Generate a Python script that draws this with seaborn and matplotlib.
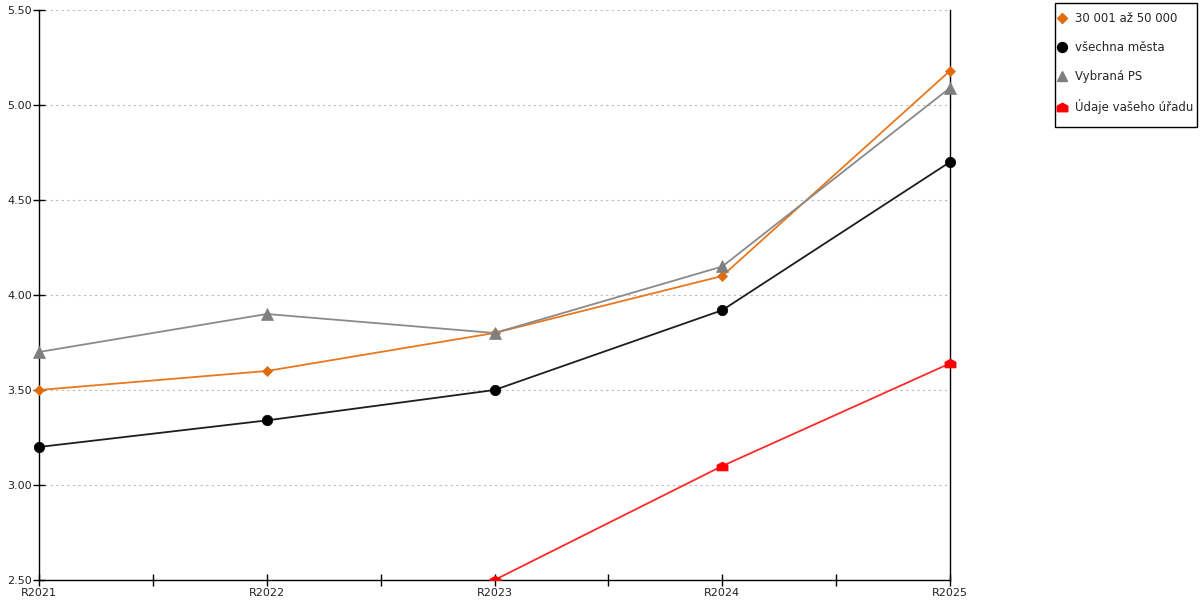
import numpy as np
import pandas as pd
import matplotlib
matplotlib.use("Agg")
import matplotlib.pyplot as plt
from matplotlib.lines import Line2D
from matplotlib.patches import Rectangle
import seaborn as sns

# data
roky = ["R2021", "R2022", "R2023", "R2024", "R2025"]
velikost_30_50 = [3.50, 3.60, 3.80, 4.10, 5.18]
vsechna_mesta = [3.20, 3.34, 3.50, 3.92, 4.70]
vybrana_ps = [3.70, 3.90, 3.80, 4.15, 5.09]
vas_urad = [np.nan, np.nan, 2.50, 3.10, 3.64]

nazvy = ["30 001 až 50 000", "všechna města", "Vybraná PS", "Údaje vašeho úřadu"]
y_ticks = [2.50, 3.00, 3.50, 4.00, 4.50, 5.00, 5.50]

sns.set_theme(style="white")
plt.rcParams["font.family"] = ["DejaVu Sans"]

# marker "domecek" (ctverec se strechou)
domecek = [(-1, -0.8), (1, -0.8), (1, 0.25), (0, 0.8), (-1, 0.25), (-1, -0.8)]

styly = {
    nazvy[0]: dict(color="#E8781E", mcolor="#E06B0B", marker="D", ms=5.5),
    nazvy[1]: dict(color="#1E1E1E", mcolor="#000000", marker="o", ms=7.5),
    nazvy[2]: dict(color="#8A8A8A", mcolor="#7F7F7F", marker="^", ms=8),
    nazvy[3]: dict(color="#FF2A2A", mcolor="#FF0000", marker=domecek, ms=8),
}

df = pd.DataFrame({
    "rok": roky * 4,
    "x": list(range(len(roky))) * 4,
    "hodnota": velikost_30_50 + vsechna_mesta + vybrana_ps + vas_urad,
    "serie": sum([[n] * len(roky) for n in nazvy], []),
})

fig = plt.figure(figsize=(12, 6), dpi=100)
ax = fig.add_axes([39 / 1200, 20 / 600, 911 / 1200, 570 / 600])

for nazev in nazvy:
    st = styly[nazev]
    d = df[df["serie"] == nazev].dropna()
    sns.lineplot(data=d, x="x", y="hodnota", ax=ax, color=st["color"],
                 linewidth=1.3, legend=False, zorder=3)
    line = ax.lines[-1]
    line.set_marker(st["marker"])
    line.set_markersize(st["ms"])
    line.set_markerfacecolor(st["mcolor"])
    line.set_markeredgecolor(st["mcolor"])
    line.set_markeredgewidth(0.5)
    # orez jen dole (aby byl videt bod na pravem okraji)
    clip = Rectangle((-0.05, 0), 1.1, 1.1, transform=ax.transAxes,
                     visible=False)
    ax.add_patch(clip)
    line.set_clip_path(clip)

ax.set_xlim(0, len(roky) - 1)
ax.set_ylim(2.5, 5.5)
ax.set_xticks(range(len(roky)))
ax.set_xticklabels(roky)
ax.set_xticks(np.arange(0.5, len(roky) - 1, 1), minor=True)
ax.set_yticks(y_ticks)
ax.set_yticklabels([f"{v:.2f}" for v in y_ticks])
ax.set_xlabel("")
ax.set_ylabel("")

ax.tick_params(axis="both", which="both", direction="inout", length=8,
               width=1, color="black", labelsize=8, labelcolor="#222222")
ax.tick_params(axis="x", which="major", pad=2)
ax.tick_params(axis="y", which="major", pad=1)
ax.tick_params(left=True, bottom=True)
ax.tick_params(axis="x", which="minor", bottom=True)

for s in ["left", "bottom", "right"]:
    ax.spines[s].set_visible(True)
    ax.spines[s].set_color("black")
    ax.spines[s].set_linewidth(1)
ax.spines["top"].set_visible(False)

ax.yaxis.grid(True, color="#BBBBBB", linestyle=(0, (2, 3)), linewidth=0.8)
ax.xaxis.grid(False)
ax.set_axisbelow(True)

handles = [
    Line2D([], [], linestyle="none", marker=styly[n]["marker"],
           markersize=styly[n]["ms"] * 0.95, markerfacecolor=styly[n]["mcolor"],
           markeredgecolor=styly[n]["mcolor"])
    for n in nazvy
]
fig.legend(handles, nazvy, loc="upper left",
           bbox_to_anchor=(1049 / 1200, 1 - 3 / 600),
           frameon=False, fontsize=8.5,
           handlelength=0.6, handletextpad=0.8, labelspacing=1.35,
           borderpad=0.8, borderaxespad=0)
# ramecek legendy
fig.patches.append(Rectangle((1055 / 1200, 1 - 127 / 600), 142 / 1200, 124 / 600,
                             transform=fig.transFigure, fill=False,
                             edgecolor="black", linewidth=1))

fig.savefig("out.png", dpi=100)
